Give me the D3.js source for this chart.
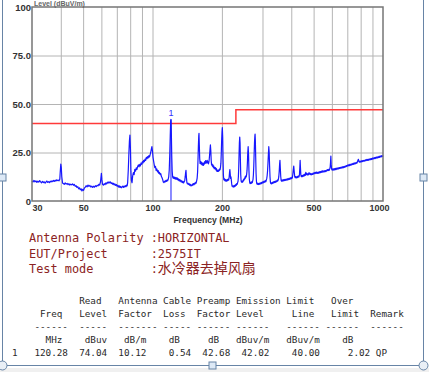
<!DOCTYPE html>
<html><head><meta charset="utf-8">
<script src="https://cdn.jsdelivr.net/npm/d3@7"></script>
<style>
html,body{margin:0;padding:0;background:#fff;}
svg{display:block;}
</style></head>
<body>
<svg id="c" width="429" height="372"></svg>
<script>
// ---------- data ----------
const yTickValues = [0, 25, 50, 75, 100];
const xTickValues = [30, 50, 100, 200, 500, 1000];
const xGridValues = [40, 50, 60, 70, 80, 90, 100, 200, 300, 400, 500, 600, 700, 800, 900];
const yGridValues = [25, 50, 75];
const limitLine = [[30, 40], [230, 40], [230, 47], [1000, 47]];
const markerFreq = 120.28, markerLevel = 42.02, markerLabel = "1";
const trace = [
[30,10.3],[30.3,9.8],[30.6,10.6],[30.9,9.9],[31.2,10.4],[31.5,9.6],[31.8,10.2],[32.1,9.7],[32.4,10.5],[32.7,9.9],[33,9.4],[33.3,10.1],[33.6,9.5],[33.9,9.9],[34.2,9.2],[34.5,9.8],[34.8,10.3],[35.1,9.6],[35.4,10.0],[35.7,9.5],[36,10.2],[36.3,9.8],[36.6,10.4],[36.9,10.0],[37.2,10.6],[37.5,10.1],[37.8,10.7],[38.1,10.3],[38.4,10.9],[38.7,10.5],[39,10.8],[39.3,10.4],[39.6,11.2],[39.8,15.5],[40.0,19.0],[40.2,17.2],[40.4,12.5],[40.7,9.3],[41,9.0],[41.4,8.6],[41.8,9.3],[42.2,8.7],[42.6,9.1],[43,8.4],[43.4,8.9],[43.8,8.2],[44.2,8.7],[44.6,8.3],[45,8.8],[45.4,8.1],[45.8,8.5],[46.2,7.6],[46.6,7.9],[47,7.0],[47.4,7.4],[47.8,6.3],[48.2,6.8],[48.6,5.8],[49,6.3],[49.4,5.2],[49.8,6.0],[50.2,5.5],[50.6,6.6],[51,7.0],[51.5,7.9],[52,7.3],[52.5,8.2],[53,7.6],[53.5,8.0],[54,7.2],[54.5,7.7],[55,7.0],[55.5,7.6],[56,7.1],[56.5,7.9],[57,7.4],[57.5,8.1],[58,7.8],[58.5,8.6],[59,8.2],[59.5,10.0],[60,14.3],[60.3,11.0],[60.7,8.6],[61.2,8.2],[61.7,8.9],[62.2,8.4],[62.7,9.3],[63.2,8.8],[63.7,9.7],[64.2,9.2],[64.7,9.9],[65.2,9.4],[65.7,9.8],[66.2,9.0],[66.7,9.4],[67.2,8.6],[67.7,9.1],[68.2,8.3],[68.7,8.8],[69.2,8.0],[69.7,8.5],[70.2,7.6],[70.7,8.1],[71.2,7.2],[71.7,7.8],[72.2,7.0],[72.7,7.5],[73.2,6.8],[73.7,7.3],[74.2,7.6],[74.7,7.0],[75.2,7.7],[75.7,7.2],[76.2,7.9],[76.7,7.4],[77.2,8.2],[77.6,7.8],
[78.0,9.5],[78.5,16],[79.0,25],[79.4,31],[79.8,34.0],[80.2,27],[80.6,15],[81.0,10.5],[81.5,9.4],[82,12.8],[82.6,14.6],[83.2,13.6],[83.8,16.3],[84.4,15.4],[85,17.1],[85.6,16.3],[86.2,17.8],[86.8,18.6],[87.4,17.6],[88,18.9],[88.6,18.1],[89.2,19.6],[89.8,18.9],[90.4,20.3],[91,19.6],[91.6,21.0],[92.2,20.3],[92.8,21.6],[93.4,20.9],[94,22.5],[94.6,21.8],[95.2,22.9],[95.8,22.2],[96.4,23.4],[97,22.7],[97.6,23.8],[98.2,25.0],[98.8,26.6],[99.4,28.0],[99.9,26.0],[100.5,22.5],[101.1,20.6],[101.7,18.8],[102.3,17.2],[103,17.9],[103.7,15.8],[104.4,16.5],[105.1,15.0],[105.8,15.7],[106.5,14.2],[107.2,14.8],[107.9,13.6],[108.6,14.1],[109.3,12.6],[110,12.0],[110.7,11.0],[111.4,9.8],[112.1,9.5],[112.8,10.2],[113.5,9.8],[114.2,10.6],[114.9,10.1],[115.6,10.9],[116.3,10.4],[117,11.3],[117.6,12.6],[118.2,16],[118.8,24],[119.4,34],[119.9,41.2],[120.28,42.02],[120.7,35],[121.2,23],[121.7,15.5],[122.3,12.4],[123,11.7],[123.7,12.5],[124.4,11.5],[125.1,12.2],[125.8,11.3],[126.5,12.1],[127.2,11.2],[127.9,11.9],[128.6,10.9],[129.3,11.5],[130,10.5],[130.8,11.1],[131.6,10.2],[132.4,10.8],[133.2,9.8],[134,10.4],[134.8,9.5],[135.6,10.1],[136.4,9.3],[137.2,9.9],[138,10.6],[138.6,12.4],[139.2,14.6],[139.7,15.8],[140.3,12.2],[141,9.4],[141.8,8.8],[142.6,9.2],[143.4,8.5],[144.2,8.9],[145,8.1],[145.8,8.6],[146.6,7.8],[147.4,8.2],[148.2,7.9],[149,8.7],[149.8,8.2],[150.6,9.0],[151.4,8.4],[152.2,9.2],[153,8.8],[153.8,9.6],[154.6,9.2],[155.4,10.4],[156.2,11.8],[156.9,15],[157.5,21],[158.1,28],[158.7,33.5],[159.1,34.9],[159.6,29],[160.2,22],[160.8,19.4],[161.5,20.5],[162.2,19.1],[162.9,20.0],[163.6,18.7],[164.3,19.7],[165,18.5],[165.7,19.4],[166.4,18.3],[167.1,19.6],[167.8,19.0],[168.5,20.3],[169.2,19.4],[169.9,20.8],[170.6,19.7],[171.3,20.6],[172,19.5],[172.7,20.9],[173.4,19.8],[174.1,20.2],[174.8,19.1],[175.5,19.9],[176.2,21.4],[176.9,23.8],[177.6,26.5],[178.3,28.9],[179,26],[179.7,21],[180.4,18.6],[181.2,19.1],[182,17.9],[182.8,18.6],[183.6,17.3],[184.4,18.0],[185.2,16.7],[186,17.3],[186.8,16.6],[187.6,17.2],[188.4,16.0],[189.2,16.7],[190,15.4],[190.8,16.0],[191.6,15.2],[192.4,15.8],[193.2,15.3],[194,16.1],[194.8,15.6],[195.6,16.6],[196.4,16.1],[197.2,17.4],[198,19.5],[198.8,25],[199.5,31],[200.2,35.5],[200.9,37.8],[201.6,33],[202.3,22],[203,13.5],[203.8,11.0],[204.6,10.8],[205.5,11.4],[206.4,10.4],[207.3,11.0],[208.2,10.2],[209.1,10.8],[210,10.3],[211,11.1],[212,10.5],[213,11.3],[214,10.8],[215,12.2],[215.8,14.6],[216.6,16.2],[217.4,13.8],[218.2,11.6],[219,12.4],[219.8,10.6],[220.6,8.8],[221.4,7.6],[222.3,7.9],[223.2,7.3],[224.1,7.8],[225,7.2],[226,7.9],[227,7.4],[228,8.2],[229,7.7],[230,8.6],[231,8.1],[232,9.0],[233,8.6],[234,9.5],[235,10.2],[235.8,12.5],[236.6,17],[237.4,24],[238.2,30],[239,33.0],[239.8,30],[240.6,21],[241.4,13.5],[242.3,10.4],[243.2,9.7],[244.1,10.2],[245,9.6],[246,10.4],[247,10.0],[248,11.0],[249,10.6],[250,11.6],[251,11.2],[252,12.4],[253,11.8],[254,12.9],[255,12.4],[256,13.6],[257,15.5],[258,19.5],[259,25],[260,28.0],[261,24],[262,16],[263,11.5],[264,9.6],[265,9.0],[266,9.6],[267,9.0],[268,9.7],[269,9.2],[270,10.0],[271,9.5],[272,10.4],[273,11.2],[274,13.5],[275,18],[276,24],[277,30],[278,33.5],[278.6,34.5],[279.4,31],[280.4,22],[281.4,14],[282.4,10.2],[283.5,8.8],[284.6,9.2],[285.7,8.6],[286.8,9.1],[288,8.5],[289.2,9.0],[290.4,8.6],[291.6,9.2],[292.8,8.7],[294,9.3],[295.2,8.9],[296.4,9.5],[297.6,9.0],[298.8,9.7],[300,9.3],[301.3,9.9],[302.6,9.4],[303.9,10.1],[305.2,9.6],[306.5,10.3],[307.8,9.8],[309.1,10.5],[310.4,10.0],[311.7,10.8],[313,11.5],[314.3,13.0],[315.6,15.5],[316.9,19.5],[318.2,24],[319.5,28.0],[320.8,25],[322.1,18],[323.4,12.5],[324.7,9.8],[326,9.0],[327.5,9.4],[329,8.8],[330.5,9.5],[332,9.1],[333.5,9.8],[335,9.3],[336.5,10.0],[338,9.5],[339.5,10.1],[341,9.6],[342.5,10.3],[344,9.8],[345.5,10.4],[347,10.1],[348.5,10.8],[350,10.4],[351.5,11.2],[353,12.4],[354.5,15],[356,19],[357.2,21.0],[358.5,17],[360,12.6],[361.5,10.6],[363,10.2],[364.5,10.8],[366,10.3],[367.5,10.9],[369,10.4],[370.5,11.0],[372,10.5],[374,11.1],[376,10.6],[378,11.2],[380,10.7],[382,11.3],[384,10.8],[386,11.5],[388,11.0],[390,11.6],[392,11.1],[394,11.8],[396,11.3],[398,12.0],[400,11.5],[402,12.2],[404,11.8],[406,13.5],[408,16],[410,18.0],[412,15],[414,12.5],[416,12.0],[418,12.6],[420,11.9],[422,12.5],[424,12.0],[426,12.7],[428,12.2],[430,12.9],[432,12.4],[434,13.5],[435.5,17],[437,21.0],[438.5,17],[440,13.6],[442,12.6],[444,13.1],[446,12.5],[448,13.2],[450,12.7],[452.5,13.5],[455,12.9],[457.5,13.8],[460,13.2],[462.5,14.8],[465,13.6],[467.5,14.2],[470,13.4],[472.5,14.0],[475,13.5],[477.5,14.6],[480,13.8],[482.5,14.3],[485,13.6],[487.5,14.1],[490,13.5],[492.5,14.0],[495,13.7],[497.5,14.4],[500,13.9],[503,14.6],[506,14.1],[509,14.8],[512,14.3],[515,14.9],[518,14.2],[521,14.8],[524,14.3],[527,15.0],[530,14.5],[533,15.2],[536,14.6],[539,15.3],[542,14.8],[545,15.6],[548,14.9],[551,15.5],[554,15.0],[557,15.6],[560,15.1],[563,15.7],[566,15.2],[569,15.9],[572,15.6],[575,16.2],[578,15.7],[581,16.3],[584,15.8],[587,16.5],[590,17.5],[592,20.0],[594,23.2],[596,19.0],[598,16.6],[601,16.0],[604,16.5],[607,15.9],[610,16.6],[613,16.0],[616,16.7],[619,16.1],[622,16.8],[625,16.2],[628,16.9],[631,16.4],[634,17.0],[637,16.5],[640,17.1],[643,16.6],[646,17.2],[649,16.8],[652,17.3],[655,16.9],[658,17.4],[661,17.0],[664,17.5],[667,17.1],[670,17.7],[674,17.2],[678,17.8],[682,17.4],[686,18.0],[690,17.6],[694,18.3],[698,17.9],[702,18.5],[706,18.1],[710,18.7],[714,18.2],[718,18.9],[722,18.4],[726,19.0],[730,18.6],[734,19.2],[738,18.8],[742,19.4],[746,18.9],[750,19.6],[754,19.1],[758,19.7],[762,19.3],[766,19.9],[770,19.5],[774,20.1],[778,20.9],[782,21.5],[786,20.4],[790,20.0],[794,20.5],[798,20.1],[802,20.6],[806,20.2],[810,20.8],[815,20.3],[820,20.9],[825,20.5],[830,21.0],[835,20.6],[840,21.2],[845,20.8],[850,21.4],[855,20.9],[860,21.5],[865,21.0],[870,21.6],[875,21.2],[880,21.8],[885,21.3],[890,21.9],[895,21.5],[900,22.1],[905,21.6],[910,22.2],[915,21.8],[920,22.4],[925,21.9],[930,22.5],[935,22.1],[940,22.7],[945,22.2],[950,22.8],[955,22.4],[960,23.0],[965,22.5],[970,23.1],[975,22.7],[980,23.3],[985,22.8],[990,23.4],[995,23.0],[1000,23.5]
];
const infoLines = ["Antenna Polarity :HORIZONTAL", "EUT/Project      :2575IT", "Test mode        :"];
const testModeText = "水冷器去掉风扇";
const tableLines = [
  "            Read   Antenna Cable Preamp Emission Limit   Over",
  "     Freq   Level  Factor  Loss  Factor Level     Line   Limit  Remark",
  "    ------  -----  ------- ----- ------ ------   ------ ------  ------",
  "      MHz    dBuv   dB/m    dB     dB   dBuv/m   dBuv/m    dB",
  "1   120.28  74.04  10.12    0.54  42.68  42.02    40.00     2.02 QP"
];
const yAxisTitle = "Level (dBuV/m)";
const xAxisTitle = "Frequency (MHz)";

// ---------- drawing ----------
const svg = d3.select("#c");
const L = 32, R = 383, T = 7, B = 201;
const x = d3.scaleLog().domain([30, 1000]).range([L, R]);
const y = d3.scaleLinear().domain([0, 100]).range([B, T]);

svg.append("rect").attr("x", 0).attr("y", 368).attr("width", 429).attr("height", 4).attr("fill", "#f0f0f0");

// grid
const gx = svg.append("g").attr("transform", `translate(0,${B})`)
  .call(d3.axisBottom(x).tickValues(xGridValues).tickSize(-(B - T)).tickFormat(""));
gx.select(".domain").remove();
gx.selectAll("line").attr("stroke", "#b4b4b4").attr("stroke-width", 1);
const gy = svg.append("g").attr("transform", `translate(${L},0)`)
  .call(d3.axisLeft(y).tickValues(yGridValues).tickSize(-(R - L)).tickFormat(""));
gy.select(".domain").remove();
gy.selectAll("line").attr("stroke", "#b4b4b4").attr("stroke-width", 1);

// limit line
svg.append("path").datum(limitLine)
  .attr("d", d3.line().x(d => x(d[0])).y(d => y(d[1])))
  .attr("fill", "none").attr("stroke", "#ff3a3a").attr("stroke-width", 1.5);

// trace
svg.append("path").datum(trace)
  .attr("d", d3.line().x(d => x(d[0])).y(d => y(d[1])))
  .attr("fill", "none").attr("stroke", "#1818ff").attr("stroke-width", 1.2).attr("stroke-linejoin", "round");

// marker
svg.append("line").attr("x1", x(markerFreq)).attr("x2", x(markerFreq))
  .attr("y1", y(markerLevel)).attr("y2", y(0)).attr("stroke", "#1818ff").attr("stroke-width", 1);
svg.append("text").attr("x", x(markerFreq)).attr("y", y(markerLevel) - 3)
  .attr("text-anchor", "middle").attr("font-family", "Liberation Sans, Arial, sans-serif")
  .attr("font-size", 9).attr("fill", "#3030ff").text(markerLabel);

// frame
svg.append("rect").attr("x", L).attr("y", T).attr("width", R - L).attr("height", B - T)
  .attr("fill", "none").attr("stroke", "#767676").attr("stroke-width", 1.5);

// axes labels
const ax = svg.append("g").attr("transform", `translate(0,${B})`)
  .call(d3.axisBottom(x).tickValues(xTickValues).tickSize(0).tickPadding(4).tickFormat(d3.format("d")));
ax.select(".domain").remove();
ax.selectAll("text").attr("font-family", "Liberation Sans, Arial, sans-serif").attr("font-weight", "bold")
  .attr("font-size", 9).attr("fill", "#333");
ax.selectAll("text").filter(d => d === 30).attr("text-anchor", "start");
ax.selectAll("text").filter(d => d === 1000).attr("text-anchor", "end").attr("dx", 6);

const ay = svg.append("g").attr("transform", `translate(${L},0)`)
  .call(d3.axisLeft(y).tickValues(yTickValues).tickSize(0).tickPadding(1)
    .tickFormat(d => d === 0 ? "0" : d === 100 ? "100" : d.toFixed(1)));
ay.select(".domain").remove();
ay.selectAll("text").attr("font-family", "Liberation Sans, Arial, sans-serif").attr("font-weight", "bold")
  .attr("font-size", 9.5).attr("fill", "#333");

svg.append("text").attr("x", 34).attr("y", 6.2).attr("font-family", "Liberation Sans, Arial, sans-serif")
  .attr("font-weight", "bold").attr("font-size", 7).attr("fill", "#666").text(yAxisTitle);
svg.append("text").attr("x", 208).attr("y", 223).attr("text-anchor", "middle")
  .attr("font-family", "Liberation Sans, Arial, sans-serif").attr("font-weight", "bold")
  .attr("font-size", 8.6).attr("fill", "#333").text(xAxisTitle);

// info block
const info = svg.append("g").attr("font-family", "DejaVu Sans Mono, monospace").attr("font-size", 11.9).attr("fill", "#8b2323");
infoLines.forEach((s, i) => {
  const t = info.append("text").attr("x", 29).attr("y", 242 + i * 15.7).attr("xml:space", "preserve").style("white-space", "pre").text(s);
  if (i === infoLines.length - 1) {
    t.append("tspan").attr("font-family", "Noto Sans CJK SC").attr("font-size", 14).text(testModeText);
  }
});

// result table
const tbl = svg.append("g").attr("font-family", "DejaVu Sans Mono, monospace").attr("font-size", 9.3).attr("fill", "#2a2a2a");
tableLines.forEach((s, i) => {
  tbl.append("text").attr("x", 12).attr("y", 304 + i * 12.9).attr("xml:space", "preserve").style("white-space", "pre").text(s);
});

// document frame and handles
const fc = "#6784a6";
svg.append("line").attr("x1", 2.5).attr("x2", 2.5).attr("y1", 0).attr("y2", 365.5).attr("stroke", fc);
svg.append("line").attr("x1", 423.5).attr("x2", 423.5).attr("y1", 0).attr("y2", 365.5).attr("stroke", fc);
svg.append("line").attr("x1", 2.5).attr("x2", 423.5).attr("y1", 365.5).attr("y2", 365.5).attr("stroke", fc);
[[2.5, 177.5], [423.5, 177.5], [212.5, 365.5]].forEach(p => {
  svg.append("rect").attr("x", p[0] - 3.5).attr("y", p[1] - 3.5).attr("width", 7).attr("height", 7)
    .attr("fill", "#dde9f6").attr("stroke", fc);
});
[[2.5, 365.5], [423.5, 365.5]].forEach(p => {
  svg.append("circle").attr("cx", p[0]).attr("cy", p[1]).attr("r", 4.5).attr("fill", "#e9eff6").attr("stroke", fc);
});
</script>
</body></html>
